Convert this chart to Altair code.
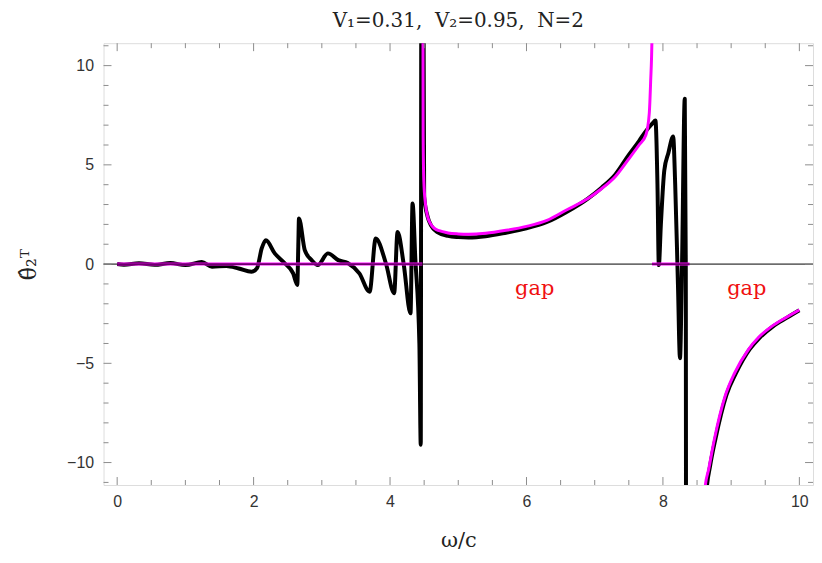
import altair as alt
import pandas as pd

# ---- data ----
black_x = [0.0, 0.1, 0.32, 0.55, 0.78, 1.0, 1.24, 1.39, 1.6, 1.78, 1.97, 2.05, 2.12, 2.18, 2.31, 2.46, 2.58, 2.64,
           2.655, 2.665, 2.75, 2.85, 2.94, 3.09, 3.24, 3.38, 3.55, 3.70, 3.79, 3.94, 4.06, 4.11, 4.2, 4.30, 4.33,
           4.37, 4.43, 4.45, 4.465, 4.50, 4.55, 4.6, 4.7, 4.85, 5.0, 5.15, 5.4, 5.7, 6.0, 6.3, 6.6, 6.9, 7.1, 7.3,
           7.5, 7.65, 7.75, 7.85, 7.89, 7.92, 7.94, 7.97, 8.02, 8.08, 8.15, 8.18, 8.22, 8.25, 8.28, 8.32, 8.335,
           8.345, 8.36, 8.6, 8.64, 8.69, 8.77, 8.93, 9.07, 9.27, 9.42, 9.61, 9.82, 10.0]
black_y = [0.0, -0.03, 0.04, -0.04, 0.05, -0.05, 0.1, -0.13, -0.1, -0.22, -0.39, -0.2, 0.8, 1.2, 0.54, 0.03, -0.47, -1.05,
           0.9, 2.3, 0.7, 0.2, -0.05, 0.54, 0.2, 0.05, -0.47, -1.39, 1.29, 0.03, -1.47, 1.62, 0.0, -2.48, 3.05,
           0.3, -4.0, -9.1, 40.0, 3.4, 2.4, 1.95, 1.6, 1.42, 1.36, 1.34, 1.4, 1.58, 1.8, 2.12, 2.65, 3.3, 3.85, 4.5,
           5.5, 6.2, 6.7, 7.1, 7.24, 4.0, -0.05, 2.0, 4.72, 5.6, 6.43, 4.0, -1.0, -4.74, 0.0, 8.33, 0.0,
           -40.0, -40.0, -40.0, -11.4, -10.2, -8.8, -6.6, -5.5, -4.3, -3.7, -3.15, -2.7, -2.33]

mag_zero1_x = [0.0, 4.475]
mag_zero1_y = [0.0, 0.0]
mag_b1_x = [4.47, 4.485, 4.495, 4.52, 4.55, 4.59, 4.65, 4.72, 4.85, 5.0, 5.15, 5.4, 5.7, 6.0, 6.3, 6.6, 6.9,
            7.07, 7.3, 7.5, 7.65, 7.75, 7.80, 7.82, 7.84, 7.845]
mag_b1_y = [40.0, 6.5, 4.2, 3.0, 2.4, 2.05, 1.8, 1.68, 1.57, 1.52, 1.5, 1.55, 1.7, 1.9, 2.2, 2.75, 3.3,
            3.72, 4.4, 5.3, 6.0, 6.5, 7.6, 9.2, 11.5, 40.0]
mag_zero2_x = [7.84, 8.39]
mag_zero2_y = [0.0, 0.0]
mag_b2_x = [8.6, 8.62, 8.67, 8.75, 8.91, 9.05, 9.25, 9.4, 9.59, 9.8, 10.0]
mag_b2_y = [-12.0, -11.2, -10.35, -8.9, -6.67, -5.5, -4.32, -3.7, -3.15, -2.7, -2.31]

gap_x = [6.12, 9.23]
gap_y = [-1.25, -1.25]
gap_text = ["gap", "gap"]

x_major = [0, 2, 4, 6, 8, 10]
x_minor = [0.5, 1, 1.5, 2.5, 3, 3.5, 4.5, 5, 5.5, 6.5, 7, 7.5, 8.5, 9, 9.5]
y_major = [-10, -5, 0, 5, 10]
y_minor = [-11, -9, -8, -7, -6, -4, -3, -2, -1, 1, 2, 3, 4, 6, 7, 8, 9, 11]

W, H = 713, 444
XD = [-0.2, 10.2]
YD = [-11.13, 11.13]

xs = alt.Scale(domain=XD, nice=False, zero=False)
ys = alt.Scale(domain=YD, nice=False, zero=False)

black = pd.DataFrame({"x": black_x, "y": black_y, "idx": list(range(len(black_x)))})
segs = []
for name, xx, yy in [("z1", mag_zero1_x, mag_zero1_y), ("b1", mag_b1_x, mag_b1_y),
                     ("z2", mag_zero2_x, mag_zero2_y), ("b2", mag_b2_x, mag_b2_y)]:
    for i, (a, b) in enumerate(zip(xx, yy)):
        segs.append({"x": a, "y": b, "seg": name, "o": i})
mag = pd.DataFrame(segs)

label_color = "#333333"
frame_color = "#8c8c8c"
SERIF = "DejaVu Serif"

AX = alt.Axis(values=x_major, ticks=False, domain=False, grid=False, labelFont="Liberation Sans",
              labelFontSize=16, labelColor=label_color, labelPadding=9, title="ω/c",
              titleFont=SERIF, titleFontSize=21, titleFontWeight="normal",
              titleColor="#222222", titlePadding=20)
AY = alt.Axis(values=y_major, ticks=False, domain=False, grid=False, labelFont="Liberation Sans",
              labelFontSize=16, labelColor=label_color, labelPadding=10, title="θ̂₂ᵀ",
              titleFont=SERIF, titleFontSize=22, titleFontWeight="normal",
              titleColor="#222222", titlePadding=26)

black_line = alt.Chart(black).mark_line(color="black", strokeWidth=4, clip=True, strokeJoin="round",
                                        interpolate="monotone").encode(
    x=alt.X("x:Q", scale=xs, axis=AX),
    y=alt.Y("y:Q", scale=ys, axis=AY),
    order=alt.Order("idx:Q"),
)

mag_line = alt.Chart(mag).mark_line(color="#ff00ff", strokeWidth=3, clip=True, strokeJoin="round",
                                    interpolate="monotone").encode(
    x=alt.X("x:Q", scale=xs, axis=AX),
    y=alt.Y("y:Q", scale=ys, axis=AY),
    detail="seg:N",
    order="o:Q",
)

zero_line = alt.Chart(pd.DataFrame({"y": [0]})).mark_rule(color="black", strokeWidth=1).encode(
    y=alt.Y("y:Q", scale=ys, axis=AY),
)

gap = alt.Chart(pd.DataFrame({"x": gap_x, "y": gap_y, "t": gap_text})).mark_text(
    color="#f01010", font=SERIF, fontSize=21, align="center", baseline="middle"
).encode(x=alt.X("x:Q", scale=xs, axis=AX), y=alt.Y("y:Q", scale=ys, axis=AY), text="t:N")


def xticks(vals, length):
    df = pd.DataFrame({"x": vals})
    bot = alt.Chart(df).mark_rule(color=frame_color, strokeWidth=1).encode(
        x=alt.X("x:Q", scale=xs, axis=AX), y=alt.value(H), y2=alt.value(H - length))
    top = alt.Chart(df).mark_rule(color=frame_color, strokeWidth=1).encode(
        x=alt.X("x:Q", scale=xs, axis=AX), y=alt.value(0), y2=alt.value(length))
    return [bot, top]


def yticks(vals, length):
    df = pd.DataFrame({"y": vals})
    left = alt.Chart(df).mark_rule(color=frame_color, strokeWidth=1).encode(
        y=alt.Y("y:Q", scale=ys, axis=AY), x=alt.value(0), x2=alt.value(length))
    right = alt.Chart(df).mark_rule(color=frame_color, strokeWidth=1).encode(
        y=alt.Y("y:Q", scale=ys, axis=AY), x=alt.value(W), x2=alt.value(W - length))
    return [left, right]


layers = [black_line, mag_line, zero_line, gap]
layers += xticks(x_major, 8) + xticks(x_minor, 5) + yticks(y_major, 8) + yticks(y_minor, 5)

NB = "\u00a0"
title_text = "V₁=0.31," + NB + NB + "V₂=0.95," + NB + NB + "N=2"

chart = alt.layer(*layers).properties(
    width=W, height=H,
    title=alt.TitleParams(title_text, font=SERIF, fontSize=20,
                          fontWeight="normal", color="#222222", anchor="middle", offset=12),
    autosize=alt.AutoSizeParams(type="none"),
    padding={"left": 96, "top": 34, "right": 1, "bottom": 69},
).configure_view(stroke=frame_color, strokeWidth=1).configure(background="white")

chart.save("out.html", embed_options={"renderer": "svg", "actions": False})
